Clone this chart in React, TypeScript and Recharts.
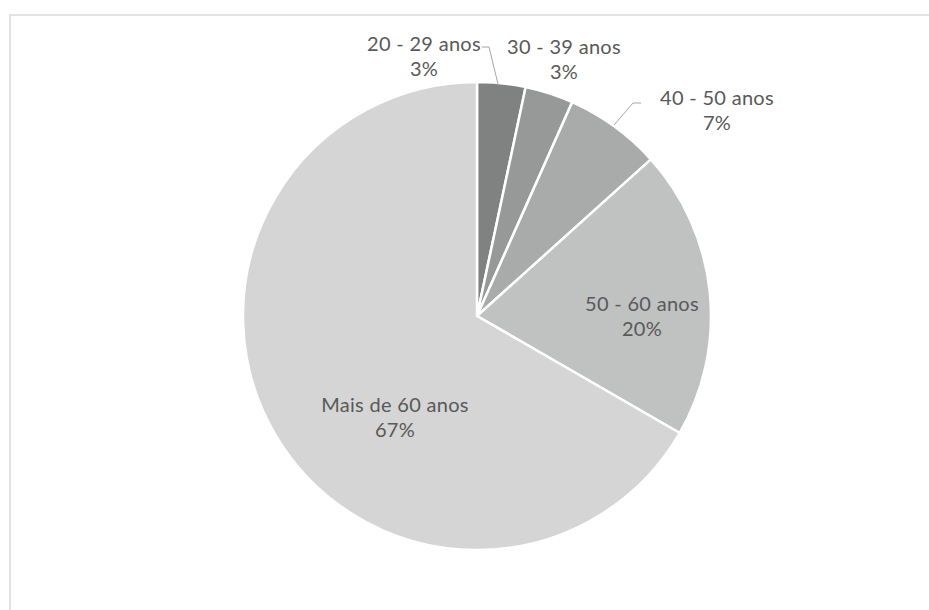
import { PieChart, Pie, Cell } from 'recharts'

// faixas etárias (contagens aproximadas)
const ageGroups = ['20 - 29 anos', '30 - 39 anos', '40 - 50 anos', '50 - 60 anos', 'Mais de 60 anos']
const counts = [1, 1, 2, 6, 20]
const sliceColors = ['#808282', '#979999', '#a9abab', '#c0c1c1', '#d4d5d4']

const total = counts.reduce((a, b) => a + b, 0)
const data = ageGroups.map((name, i) => ({ name, value: counts[i] }))

// posição dos rótulos relativa ao centro (dx, dy) e linha de chamada
const labelLayout = [
  { dx: -53, dy: -260, leader: [[482, 47], [489, 47], [498, 84]] },
  { dx: 87, dy: -257, leader: null },
  { dx: 240, dy: -206, leader: [[641, 103], [633, 103], [614, 125]] },
  { dx: 165, dy: 0, leader: null },
  { dx: -82, dy: 101, leader: null },
]

const textColor = '#595959'

function renderLabel(props: any) {
  const { cx, cy, index, value } = props
  const l = labelLayout[index]
  const x = cx + l.dx
  const y = cy + l.dy
  const pct = Math.round((value / total) * 100)
  return (
    <g key={`lbl-${index}`}>
      {l.leader && (
        <polyline
          points={l.leader.map((p) => p.join(',')).join(' ')}
          fill="none"
          stroke="#a6a6a6"
          strokeWidth={1}
        />
      )}
      <text
        x={x}
        y={y}
        textAnchor="middle"
        fill={textColor}
        fontFamily="Lato, 'Open Sans', sans-serif"
        fontSize={20}
        letterSpacing={0.3}
      >
        <tspan x={x} dy={-5}>{ageGroups[index]}</tspan>
        <tspan x={x} dy={25}>{pct}%</tspan>
      </text>
    </g>
  )
}

export default function App() {
  return (
    <div style={{ position: 'absolute', left: 0, top: 0, width: 929, height: 610, background: '#fff', overflow: 'hidden' }}>
      <div
        style={{
          position: 'absolute',
          left: 9,
          top: 14,
          width: 940,
          height: 620,
          borderLeft: '2px solid #e3e3e3',
          borderTop: '2px solid #e3e3e3',
        }}
      />
      <div style={{ position: 'absolute', left: 0, top: 0 }}>
        <PieChart width={929} height={610} margin={{ top: 0, right: 0, bottom: 0, left: 0 }}>
          <Pie
            data={data}
            dataKey="value"
            cx={477}
            cy={316}
            outerRadius={234}
            startAngle={90}
            endAngle={-270}
            stroke="#ffffff"
            strokeWidth={2.5}
            label={renderLabel}
            labelLine={false}
            isAnimationActive={false}
          >
            {data.map((d, i) => (
              <Cell key={d.name} fill={sliceColors[i]} />
            ))}
          </Pie>
        </PieChart>
      </div>
    </div>
  )
}
